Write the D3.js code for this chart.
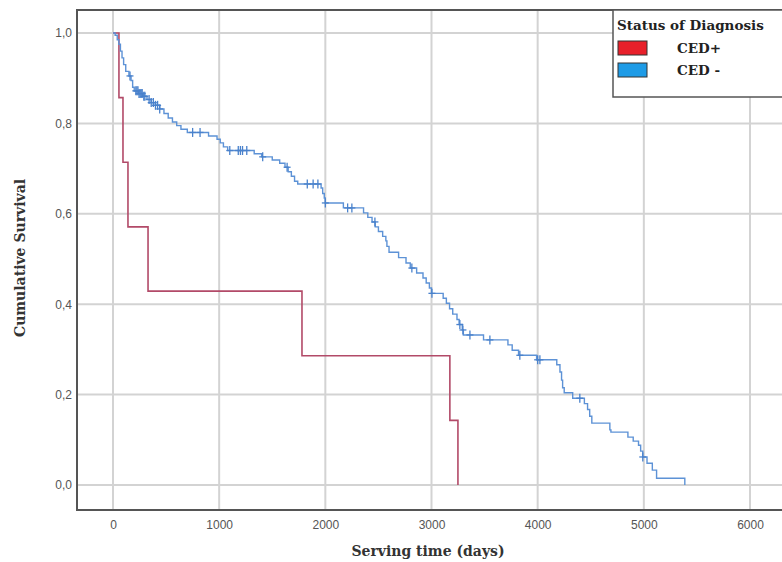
<!DOCTYPE html>
<html><head><meta charset="utf-8">
<script src="https://cdn.jsdelivr.net/npm/d3@7"></script>
<style>body{margin:0;background:#fff}svg{display:block}</style>
</head><body>
<svg id="chart" width="782" height="562"></svg>
<script>
const xTicks = [0,1000,2000,3000,4000,5000,6000];
const yTicks = [0,0.2,0.4,0.6,0.8,1.0];
const seriesNames = ["CED+","CED -"];
// CED+ : [time, survival after event]
const cedPos = [[0,1],[56,0.857],[94,0.714],[141,0.571],[330,0.429],[1780,0.286],[3173,0.143],[3249,0]];
// CED - : [time, survival after event]
const cedNeg = [[0,1],[20,0.995],[40,0.985],[55,0.975],[70,0.96],[85,0.945],[100,0.93],[120,0.915],[150,0.905],
 [170,0.895],[185,0.88],[200,0.872],[240,0.866],[280,0.86],[320,0.853],[360,0.846],[400,0.84],[440,0.832],
 [480,0.822],[520,0.812],[560,0.803],[600,0.795],[640,0.787],[700,0.78],[900,0.772],[980,0.765],[1010,0.757],
 [1040,0.748],[1080,0.74],[1330,0.733],[1400,0.726],[1500,0.719],[1570,0.712],[1620,0.703],[1650,0.693],
 [1680,0.683],[1710,0.672],[1740,0.666],[1960,0.657],[1975,0.645],[1990,0.635],[2000,0.624],[2170,0.613],
 [2360,0.602],[2400,0.592],[2440,0.582],[2470,0.571],[2500,0.561],[2540,0.55],[2570,0.54],[2580,0.528],
 [2600,0.515],[2690,0.503],[2760,0.491],[2800,0.48],[2860,0.469],[2920,0.458],[2950,0.447],[2980,0.436],
 [3000,0.424],[3110,0.413],[3140,0.402],[3170,0.39],[3200,0.378],[3240,0.366],[3260,0.355],[3290,0.343],
 [3300,0.332],[3490,0.321],[3720,0.31],[3760,0.298],[3820,0.287],[3990,0.277],[4180,0.266],[4210,0.25],
 [4225,0.232],[4235,0.215],[4250,0.204],[4330,0.192],[4440,0.18],[4470,0.167],[4490,0.152],[4510,0.137],
 [4680,0.122],[4690,0.117],[4850,0.106],[4900,0.097],[4950,0.088],[4970,0.075],[4990,0.062],[5030,0.048],
 [5080,0.033],[5120,0.015],[5386,0]];
const cedNegCensored = [160,215,225,235,245,255,265,275,290,300,340,360,380,400,420,440,750,820,1100,1180,1200,1220,1260,
 1410,1640,1830,1885,1930,2000,2210,2250,2467,2815,3004,3267,3296,3362,3550,3832,4000,4021,4397,4990];

const svg = d3.select("#chart");
const x = d3.scaleLinear().domain([0,6000]).range([113,750]);
const y = d3.scaleLinear().domain([0,1]).range([485,33]);
const frameL = 77, frameT = 10, frameB = 510, frameR = 795;

// gridlines
const grid = svg.append("g").attr("stroke","#d3d3d3").attr("stroke-width",2);
xTicks.forEach(t=>grid.append("line").attr("x1",x(t)).attr("x2",x(t)).attr("y1",frameT).attr("y2",frameB));
yTicks.forEach(t=>grid.append("line").attr("x1",frameL).attr("x2",frameR).attr("y1",y(t)).attr("y2",y(t)));

// frame
svg.append("rect").attr("x",frameL).attr("y",frameT).attr("width",frameR-frameL).attr("height",frameB-frameT)
  .attr("fill","none").attr("stroke","#555").attr("stroke-width",2);

// axes labels
const xAxis = d3.axisBottom(x).tickValues(xTicks).tickSize(0).tickPadding(0).tickFormat(d3.format("d"));
const gx = svg.append("g").attr("transform",`translate(0,${frameB+10})`).call(xAxis);
gx.select(".domain").remove();
gx.selectAll("text").attr("font-family","Liberation Sans, Arial, sans-serif").attr("font-size",12).attr("fill","#555").attr("dy","0.71em");
const yAxis = d3.axisLeft(y).tickValues(yTicks).tickSize(0).tickPadding(0).tickFormat(d=>d3.format(".1f")(d).replace(".",","));
const gy = svg.append("g").attr("transform",`translate(${frameL-5},0)`).call(yAxis);
gy.select(".domain").remove();
gy.selectAll("text").attr("font-family","Liberation Sans, Arial, sans-serif").attr("font-size",12).attr("fill","#555");

// titles
svg.append("text").attr("x",428).attr("y",556).attr("text-anchor","middle")
  .attr("font-family","DejaVu Serif, serif").attr("font-weight","bold").attr("font-size",14).attr("fill","#333").text("Serving time (days)");
svg.append("text").attr("transform","translate(25,258) rotate(-90)").attr("text-anchor","middle")
  .attr("font-family","DejaVu Serif, serif").attr("font-weight","bold").attr("font-size",14).attr("fill","#333").text("Cumulative Survival");

// survival curves
const line = d3.line().x(d=>x(d[0])).y(d=>y(d[1])).curve(d3.curveStepAfter);
svg.append("path").datum(cedPos).attr("d",line).attr("fill","none").attr("stroke","#b24a68").attr("stroke-width",1.6);
svg.append("path").datum(cedNeg).attr("d",line).attr("fill","none").attr("stroke","#5d92d6").attr("stroke-width",1.4);

function survAt(data,t){let s=1;for(const d of data){if(d[0]<=t)s=d[1];else break;}return s;}
const cg = svg.append("g").attr("stroke","#4a82cc").attr("stroke-width",1.3);
cedNegCensored.forEach(t=>{
  const cx=x(t), cy=y(survAt(cedNeg,t));
  cg.append("line").attr("x1",cx-3.5).attr("x2",cx+3.5).attr("y1",cy).attr("y2",cy);
  cg.append("line").attr("x1",cx).attr("x2",cx).attr("y1",cy-4.5).attr("y2",cy+4.5);
});

// legend
const lg = svg.append("g");
lg.append("rect").attr("x",613).attr("y",frameT).attr("width",frameR-613).attr("height",97-frameT)
  .attr("fill","#fff").attr("stroke","#555").attr("stroke-width",1.5);
lg.append("text").attr("x",617).attr("y",30).attr("font-family","DejaVu Serif, serif").attr("font-weight","bold")
  .attr("font-size",13.5).attr("fill","#222").text("Status of Diagnosis");
const legColors = ["#e8202a","#1e9be6"];
seriesNames.forEach((n,i)=>{
  lg.append("rect").attr("x",618).attr("y",41+i*22).attr("width",29).attr("height",14)
    .attr("fill",legColors[i]).attr("stroke","#333").attr("stroke-width",1);
  lg.append("text").attr("x",677).attr("y",53+i*22).attr("font-family","DejaVu Serif, serif").attr("font-weight","bold")
    .attr("font-size",13.5).attr("fill","#222").text(n);
});
</script>
</body></html>
